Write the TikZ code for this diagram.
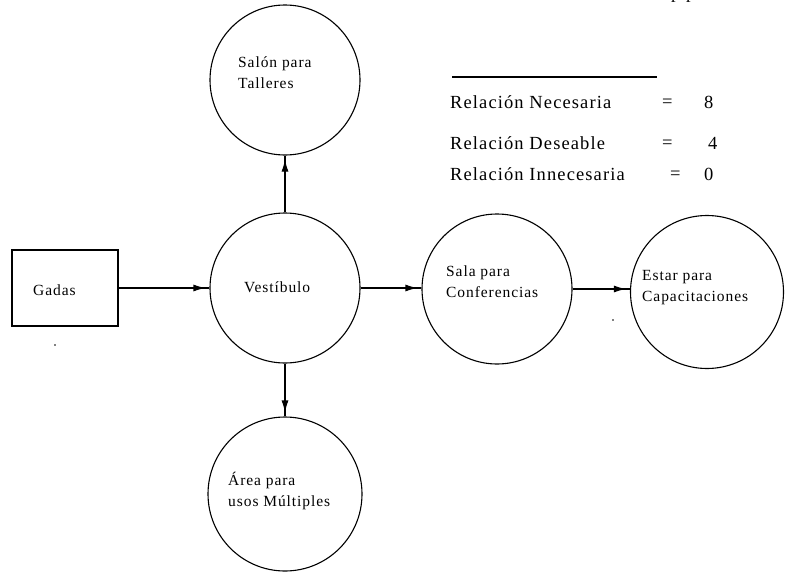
\documentclass[tikz,border=0pt]{standalone}
\usepackage{fontspec}
\setmainfont{Liberation Serif}[LetterSpace=6]
\usetikzlibrary{arrows.meta}
\begin{document}
\begin{tikzpicture}[x=1pt,y=-1pt,
  room/.style={draw,circle,line width=1.1pt,minimum size=150pt,inner sep=0pt},
  boxnode/.style={draw,rectangle,line width=1.1pt,minimum width=106pt,minimum height=76pt,inner sep=0pt},
  lbl/.style={align=left,font=\fontsize{15.5}{21}\selectfont,inner sep=0pt,anchor=west},
  leg/.style={font=\fontsize{18.5}{21}\selectfont,inner sep=0pt,anchor=west},
  link/.style={line width=1.1pt},
  tip/.style={line width=1.1pt,-{Latex[length=12pt,width=7pt]},shorten >=4pt}]
\useasboundingbox (0,0) rectangle (787,573);
\fill[white] (0,0) rectangle (787,573);
% nodes
\node[room] (salon) at (285,80) {};
\node[room] (vest) at (285,288) {};
\node[room] (sala) at (497,289) {};
\node[room,minimum size=153pt] (estar) at (707,292) {};
\node[room,minimum size=154pt] (area) at (285,494) {};
\node[boxnode] (gadas) at (65,288) {};
% labels
\node[lbl] (tsalon) at (238,73) {Salón para\\Talleres};
\node[lbl] (tvest) at (244,287) {Vestíbulo};
\node[lbl] (tsala) at (446,282) {Sala para\\Conferencias};
\node[lbl] (testar) at (642,288) {Estar para\\Capacitaciones};
\node[lbl] (tarea) at (228,491) {Área para\\usos Múltiples};
\node[lbl] (tgadas) at (33,290) {Gadas};
% connectors
\draw[link] (vest.north) -- (salon.south);
\draw[tip] (vest.north) -- (salon.south);
\draw[link] (gadas.east) -- (vest.west);
\draw[tip] (gadas.east) -- (vest.west);
\draw[link] (vest.east) -- (sala.west |- vest.east);
\draw[tip] (vest.east) -- (sala.west |- vest.east);
\coordinate (sa) at (sala.east);
\draw[link] (sa) -- (estar.west |- sa);
\draw[tip] (sa) -- (estar.west |- sa);
\draw[link] (vest.south) -- (area.north);
\draw[tip] (vest.south) -- (area.north);
% legend
\coordinate (l1) at (452,77);
\coordinate (l2) at (657,77);
\draw[line width=1.1pt] (l1) -- (l2);
\node[leg] (r1) at (450,102) {Relación Necesaria};
\node[leg] (r2) at (450,143) {Relación Deseable};
\node[leg] (r3) at (450,174) {Relación Innecesaria};
\node[leg] (e1) at (662,103) {=};
\node[leg] (e2) at (662,144) {=};
\node[leg] (e3) at (670,175) {=};
\node[leg] (n1) at (704,102) {8};
\node[leg] (n2) at (708,143) {4};
\node[leg] (n3) at (704,174) {0};
% cut-off text at top
\node[leg,anchor=base west] (cut) at (671,-2) {p p};
% specks
\fill (55,345) circle (0.8pt);
\fill (613,320) circle (0.8pt);
\end{tikzpicture}
\end{document}
